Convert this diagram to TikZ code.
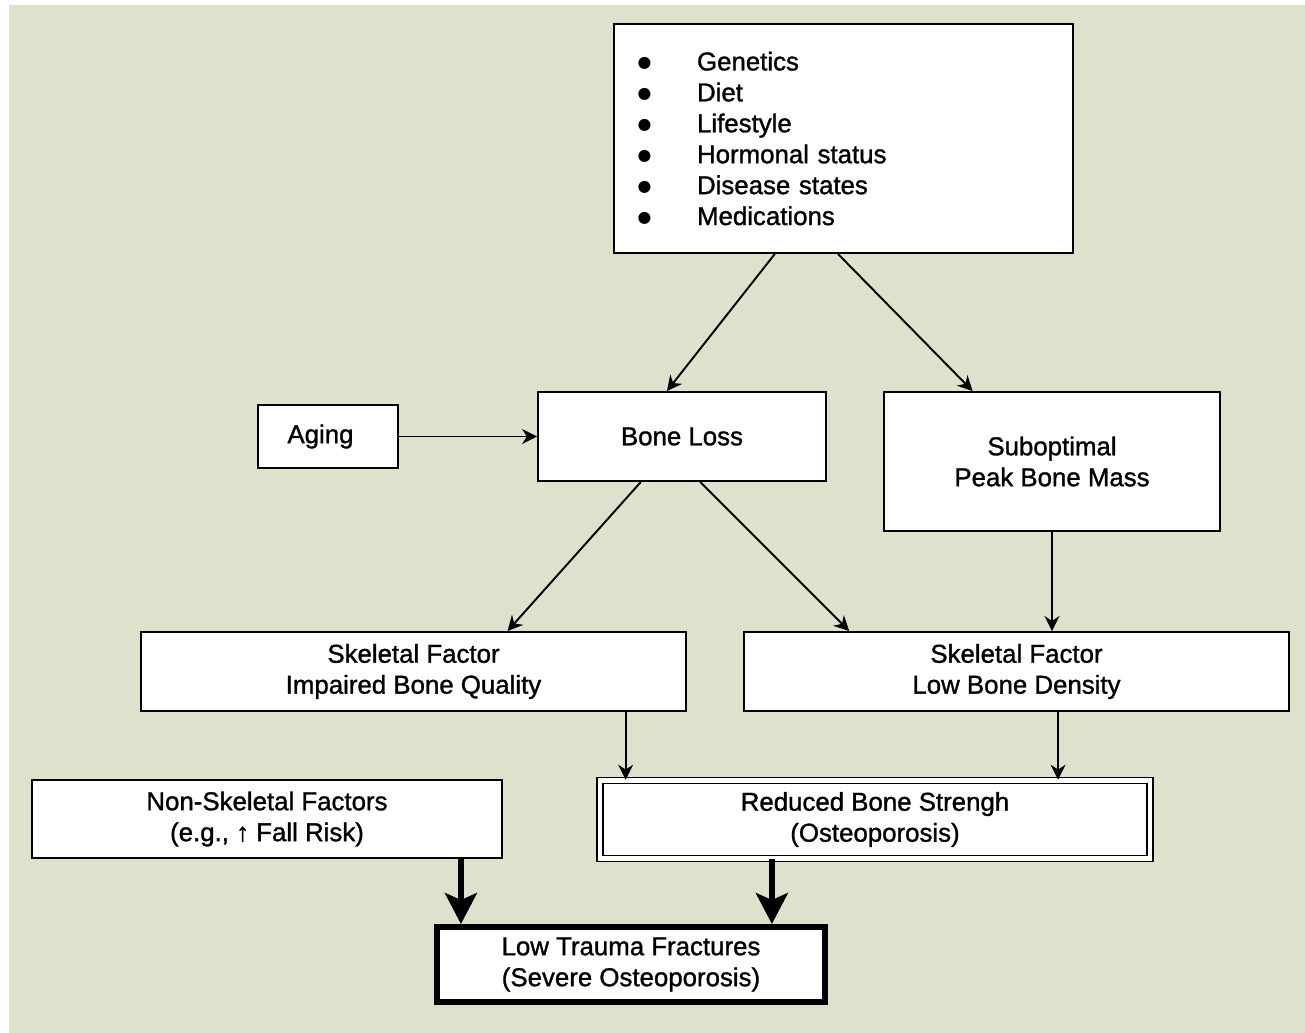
\documentclass[tikz,border=0pt]{standalone}
\usepackage{fontspec}
\setmainfont{Liberation Sans}[BoldFont={Liberation Sans},BoldFeatures={FakeBold=1.2}]
\newfontfamily\symfont{DejaVu Sans}
\usetikzlibrary{positioning}
\usetikzlibrary{calc}
\usetikzlibrary{arrows.meta}
\definecolor{bgbeige}{RGB}{223,225,205}
\newcommand{\bigdot}{\makebox[1.22cm][l]{\hspace*{0.03cm}\raisebox{1.6pt}{\fontsize{9}{9}\selectfont\symfont ●}}}

\begin{document}
\begin{tikzpicture}[x=0.02cm,y=-0.02cm,line width=1.1pt,
	>={Stealth[length=0.3cm,width=0.3cm]},
	main node/.style={draw,fill=white,align=center,inner sep=0pt,
		font=\fontsize{14.7}{17.6}\selectfont\bfseries},
	big arrow/.style={line width=3pt,-{Stealth[length=0.62cm,width=0.64cm,inset=0.14cm]}}]

	\useasboundingbox (0,0) rectangle (1305,1033);
	\fill[white] (0,0) rectangle (1305,1033);
	\fill[bgbeige] (9,5) rectangle (1305,1033);

	\node[main node,minimum width=9.18cm,minimum height=4.58cm,text width=8.3cm,align=left] (causes) at (843.5,138.5)
	{\bigdot Genetics\\
	 \bigdot Diet\\
	 \bigdot Lifestyle\\
	 \bigdot Hormonal status\\
	 \bigdot Disease states\\
	 \bigdot Medications};
	\node[main node,minimum width=2.8cm,minimum height=1.26cm] (aging) at (328,436.5) {\hspace*{-0.3cm}Aging};
	\node[main node,minimum width=5.76cm,minimum height=1.78cm] (loss) at (682,436.5) {Bone Loss};
	\node[main node,minimum width=6.72cm,minimum height=2.78cm] (peak) at (1052,461.5) {Suboptimal\\Peak Bone Mass};
	\node[main node,minimum width=10.9cm,minimum height=1.58cm] (qual) at (413.5,671.5) {Skeletal Factor\\Impaired Bone Quality};
	\node[main node,minimum width=10.9cm,minimum height=1.58cm] (dens) at (1016.5,671.5) {Skeletal Factor\\Low Bone Density};
	\node[main node,minimum width=9.4cm,minimum height=1.56cm] (nonsk) at (267,819) {Non-Skeletal Factors\\(e.g., ↑ Fall Risk)};
	\node[main node,minimum width=11cm,minimum height=1.56cm,line width=0.9pt,double=white,double distance=2.3pt] (str) at (875,819.5) {Reduced Bone Strengh\\(Osteoporosis)};
	\node[main node,minimum width=7.76cm,minimum height=1.5cm,line width=3.4pt] (frac) at (631,964.5) {Low Trauma Fractures\\(Severe Osteoporosis)};

	\draw[->] ($(causes.south west)!.351!(causes.south east)$) -- ($(loss.north west)!.448!(loss.north east)$);
	\draw[->] ($(causes.south west)!.488!(causes.south east)$) -- ($(peak.north west)!.265!(peak.north east)$);
	\draw[->] (aging) -- (loss);
	\draw[->] ($(loss.south west)!.358!(loss.south east)$) -- ($(qual.north west)!.672!(qual.north east)$);
	\draw[->] ($(loss.south west)!.5625!(loss.south east)$) -- ($(dens.north west)!.194!(dens.north east)$);
	\draw[->] (peak.south) -- (peak.south |- dens.north);
	\draw[->] ($(qual.south west)!.888!(qual.south east)$) coordinate (q1) -- (q1 |- str.north);
	\draw[->] ($(dens.south west)!.576!(dens.south east)$) coordinate (d1) -- (d1 |- str.north);
	\draw[big arrow] ($(nonsk.south west)!.911!(nonsk.south east)$) coordinate (n1) -- (n1 |- frac.north);
	\draw[big arrow] ($(str.south west)!.313!(str.south east)$) coordinate (s1) -- (s1 |- frac.north);
\end{tikzpicture}
\end{document}
